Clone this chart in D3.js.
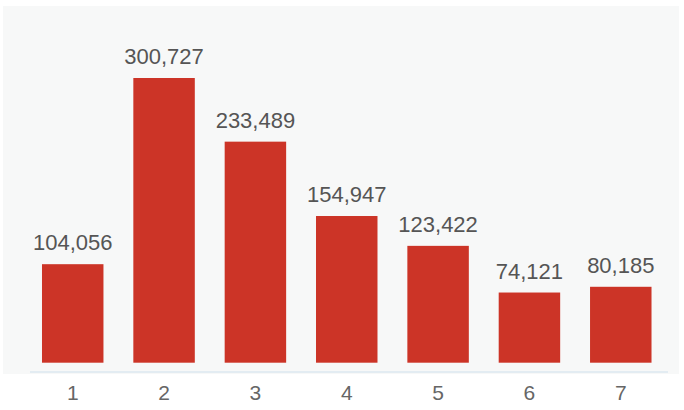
<!DOCTYPE html>
<html>
<head>
<meta charset="utf-8">
<script src="https://cdn.jsdelivr.net/npm/d3@7"></script>
<style>
  html, body { margin: 0; padding: 0; background: #ffffff; }
  svg { display: block; }
</style>
</head>
<body>
<svg id="chart" width="684" height="410"></svg>
<script>
const categories = ["1", "2", "3", "4", "5", "6", "7"];
const values = [104056, 300727, 233489, 154947, 123422, 74121, 80185];

const svg = d3.select("#chart");

// panel background
svg.append("rect").attr("x", 3).attr("y", 6).attr("width", 676).attr("height", 368)
  .attr("fill", "#f7f8f8");

const x = d3.scaleBand().domain(categories).range([27.1, 666.4]).paddingInner(0.327).paddingOuter(0.163);
const y = d3.scaleLinear().domain([0, 300727]).range([362.7, 78]);

// baseline
svg.append("line").attr("x1", 30).attr("x2", 668).attr("y1", 372).attr("y2", 372)
  .attr("stroke", "#e3ecf2").attr("stroke-width", 2);

const data = categories.map((c, i) => ({ c, v: values[i] }));

svg.selectAll("rect.bar").data(data).enter().append("rect")
  .attr("class", "bar")
  .attr("x", d => x(d.c))
  .attr("width", x.bandwidth())
  .attr("y", d => y(d.v))
  .attr("height", d => y(0) - y(d.v))
  .attr("fill", "#cc3427");

const fmt = d3.format(",");
svg.selectAll("text.val").data(data).enter().append("text")
  .attr("class", "val")
  .attr("x", d => x(d.c) + x.bandwidth() / 2)
  .attr("y", d => y(d.v) - 14)
  .attr("text-anchor", "middle")
  .attr("font-family", "Liberation Sans, Arial, sans-serif")
  .attr("font-size", 22)
  .attr("fill", "#555555")
  .text(d => fmt(d.v));

const xAxis = d3.axisBottom(x).tickSize(0).tickPadding(0);
const gx = svg.append("g").attr("transform", "translate(0,385)").call(xAxis);
gx.select(".domain").remove();
gx.selectAll("text")
  .attr("dy", "0.71em")
  .attr("font-family", "Liberation Sans, Arial, sans-serif")
  .attr("font-size", 21)
  .attr("fill", "#666666");
</script>
</body>
</html>
